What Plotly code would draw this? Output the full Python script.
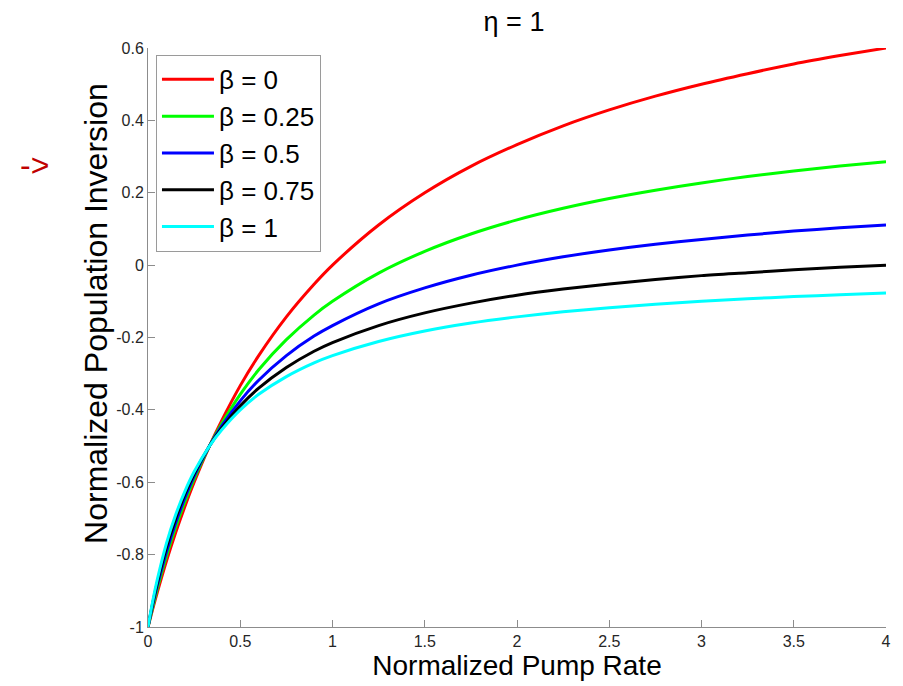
import plotly.graph_objects as go

# Normalized pump rate samples
pump = [0, 0.025, 0.05, 0.1, 0.15, 0.2, 0.25, 0.333, 0.4, 0.5, 0.6, 0.75, 0.9,
        1.0, 1.25, 1.5, 1.75, 2.0, 2.25, 2.5, 2.75, 3.0, 3.25, 3.5, 3.75, 4.0]

# Normalized population inversion for each beta
inv_b000 = [-1, -0.951, -0.905, -0.818, -0.739, -0.667, -0.600, -0.500, -0.429, -0.333, -0.250,
            -0.143, -0.053, 0.000, 0.111, 0.200, 0.273, 0.333, 0.385, 0.429, 0.467, 0.500,
            0.529, 0.556, 0.579, 0.600]
inv_b025 = [-1, -0.946, -0.895, -0.804, -0.724, -0.654, -0.591, -0.500, -0.438, -0.357, -0.289,
            -0.206, -0.138, -0.100, -0.022, 0.038, 0.086, 0.125, 0.157, 0.184, 0.207, 0.227,
            0.245, 0.260, 0.274, 0.286]
inv_b050 = [-1, -0.940, -0.886, -0.792, -0.712, -0.643, -0.583, -0.500, -0.444, -0.375, -0.318,
            -0.250, -0.196, -0.167, -0.107, -0.063, -0.028, 0.000, 0.023, 0.042, 0.058, 0.071,
            0.083, 0.094, 0.103, 0.111]
inv_b075 = [-1, -0.935, -0.878, -0.780, -0.700, -0.633, -0.577, -0.500, -0.450, -0.389, -0.340,
            -0.283, -0.238, -0.214, -0.167, -0.132, -0.105, -0.083, -0.066, -0.052, -0.040,
            -0.029, -0.021, -0.013, -0.006, 0.000]
inv_b100 = [-1, -0.930, -0.870, -0.769, -0.690, -0.625, -0.571, -0.500, -0.455, -0.400, -0.357,
            -0.308, -0.270, -0.250, -0.211, -0.182, -0.160, -0.143, -0.129, -0.118, -0.108,
            -0.100, -0.093, -0.087, -0.082, -0.077]

series_names = ["β = 0", "β = 0.25", "β = 0.5", "β = 0.75", "β = 1"]
series_values = [inv_b000, inv_b025, inv_b050, inv_b075, inv_b100]
series_colors = ["#ff0000", "#00ff00", "#0000ff", "#000000", "#00ffff"]

x_ticks = [0, 0.5, 1, 1.5, 2, 2.5, 3, 3.5, 4]
x_ticktext = ["0", "0.5", "1", "1.5", "2", "2.5", "3", "3.5", "4"]
y_ticks = [-1, -0.8, -0.6, -0.4, -0.2, 0, 0.2, 0.4, 0.6]
y_ticktext = ["-1", "-0.8", "-0.6", "-0.4", "-0.2", "0", "0.2", "0.4", "0.6"]

FONT = "Liberation Sans, Arial, sans-serif"

# plot area in pixels
W, H = 903, 686
L, R, T, B = 148, 14, 48, 54
PW, PH = W - L - R, H - T - B


def px_x(p):
    return (p - L) / PW


def px_y(p):
    return (H - B - p) / PH


fig = go.Figure()
for name, vals, col in zip(series_names, series_values, series_colors):
    fig.add_trace(go.Scatter(
        x=pump, y=vals, mode="lines", name=name,
        line=dict(color=col, width=3, shape="spline", smoothing=0.8),
    ))

axis_common = dict(
    showgrid=False, zeroline=False, showline=True, linecolor="#8c8c8c", linewidth=1,
    ticks="inside", ticklen=7, tickcolor="#8c8c8c", mirror=False,
    tickfont=dict(family=FONT, size=16, color="#262626"),
)

fig.update_layout(
    width=W, height=H,
    margin=dict(l=L, r=R, t=T, b=B),
    paper_bgcolor="white", plot_bgcolor="white",
    font=dict(family=FONT, color="black"),
    title=dict(text="η = 1", x=514 / W, xanchor="center",
               y=1 - 22 / H, yanchor="middle", font=dict(size=27, family=FONT)),
    xaxis=dict(range=[0, 4], tickvals=x_ticks, ticktext=x_ticktext,
               title=dict(text="Normalized Pump Rate", font=dict(size=28, family=FONT), standoff=4),
               **axis_common),
    yaxis=dict(range=[-1, 0.6], tickvals=y_ticks, ticktext=y_ticktext, **axis_common),
    legend=dict(x=px_x(156), y=px_y(55), xanchor="left", yanchor="top",
                bgcolor="white", bordercolor="#9a9a9a", borderwidth=1,
                font=dict(size=26, family=FONT, color="black"),
                itemwidth=52, tracegroupgap=0),
    showlegend=True,
)

# vertical axis title
fig.add_annotation(text="Normalized Population Inversion", textangle=-90,
                   x=px_x(95), y=px_y(316), xref="paper", yref="paper",
                   xanchor="center", yanchor="middle", showarrow=False,
                   font=dict(size=32, color="black", family=FONT))

fig.add_annotation(text="->", x=px_x(34), y=px_y(166),
                   xref="paper", yref="paper", xanchor="center", yanchor="middle",
                   showarrow=False, font=dict(size=32, color="#c00000", family=FONT))

fig.write_html("out.html")
